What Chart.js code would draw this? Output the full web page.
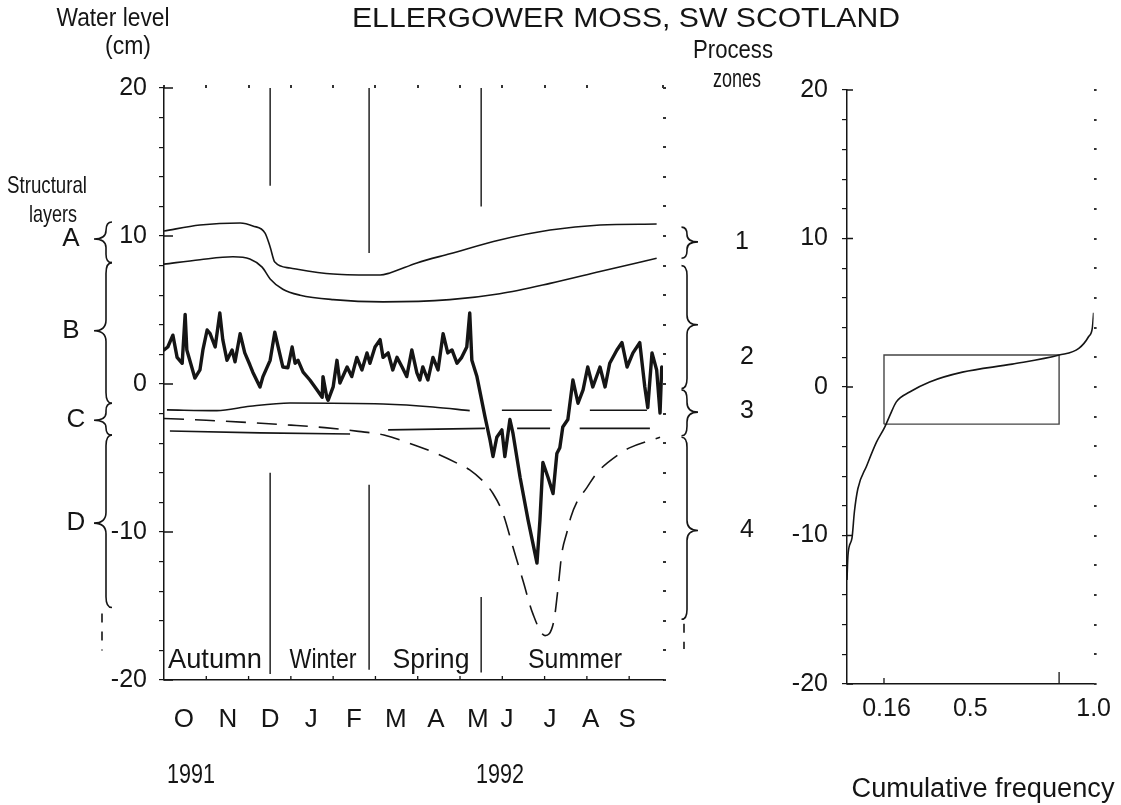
<!DOCTYPE html>
<html>
<head>
<meta charset="utf-8">
<title>Ellergower Moss water level</title>
<script src="https://cdn.jsdelivr.net/npm/chart.js@4.4.0/dist/chart.umd.min.js"></script>
<style>
  html, body { margin: 0; padding: 0; background: #fff; }
  #wrap { position: relative; width: 1121px; height: 805px; }
  #wrap canvas { position: absolute; left: 0; top: 0; }
</style>
</head>
<body>
<div id="wrap">
  <canvas id="levels" width="1121" height="805"></canvas>
  <canvas id="freq" width="1121" height="805"></canvas>
</div>
<script>
// months are counted from 1 October 1991
const monthLabels = ['O', 'N', 'D', 'J', 'F', 'M', 'A', 'M', 'J', 'J', 'A', 'S'];
const monthLabelAt = [0.47, 1.51, 2.51, 3.48, 4.49, 5.48, 6.43, 7.42, 8.11, 9.13, 10.09, 10.95];

// water level record (cm)
const levelMonth = [0, 0.09, 0.21, 0.31, 0.43, 0.50, 0.54, 0.73, 0.85, 0.92,
  1.02, 1.09, 1.21, 1.32, 1.39, 1.49, 1.61, 1.68, 1.80, 1.91,
  2.03, 2.10, 2.27, 2.34, 2.51, 2.62, 2.70, 2.81, 2.93, 3.03,
  3.10, 3.17, 3.29, 3.45, 3.62, 3.74, 3.76, 3.85, 3.88, 4.00,
  4.09, 4.16, 4.33, 4.44, 4.56, 4.68, 4.80, 4.87, 4.99, 5.11,
  5.18, 5.30, 5.41, 5.51, 5.63, 5.74, 5.86, 5.98, 6.05, 6.12,
  6.24, 6.36, 6.48, 6.60, 6.71, 6.81, 6.93, 7.04, 7.16, 7.23,
  7.28, 7.40, 7.59, 7.71, 7.78, 7.87, 7.99, 8.06, 8.18, 8.25,
  8.42, 8.61, 8.82, 8.89, 8.96, 9.08, 9.20, 9.29, 9.36, 9.43,
  9.55, 9.67, 9.79, 9.91, 10.02, 10.14, 10.31, 10.43, 10.54, 10.71,
  10.83, 10.95, 11.09, 11.25, 11.37, 11.44, 11.54, 11.65, 11.73, 11.77];
const levelCm = [2.3, 2.5, 3.3, 1.8, 1.4, 4.7, 2.3, 0.4, 0.95, 2.3,
  3.65, 3.4, 2.5, 4.8, 3.0, 1.6, 2.3, 1.5, 3.4, 2.1,
  1.3, 0.8, -0.2, 0.5, 1.6, 3.5, 2.5, 1.15, 1.1, 2.5,
  1.4, 1.6, 0.8, 0.27, -0.4, -0.9, 0.5, -0.9, -1.1, -0.2,
  1.6, 0.07, 1.15, 0.5, 1.8, 0.95, 2.1, 1.4, 2.5, 3.0,
  1.8, 2.1, 0.95, 1.8, 1.15, 0.5, 2.3, 0.75, 0.27, 1.15,
  0.27, 1.8, 0.95, 3.4, 2.1, 2.3, 1.4, 1.8, 2.5, 4.8,
  1.6, 0.5, -2.2, -3.8, -4.9, -3.6, -3.1, -4.9, -2.4, -3.3,
  -6.3, -9.2, -12.1, -9.2, -5.3, -6.3, -7.4, -4.7, -4.3, -2.9,
  -2.4, 0.27, -1.3, -0.4, 1.15, -0.2, 1.15, -0.2, 1.4, 2.3,
  2.8, 1.15, 2.1, 2.8, -0.2, -1.6, 2.1, 0.95, -1.96, 1.15];

// upper boundary of layer A
const topAMonth = [0, 0.85, 1.80, 2.10, 2.39, 2.51, 2.62, 2.98, 4.00, 5.11, 5.34, 5.98, 6.76, 7.94, 9.13, 10.31, 11.65];
const topACm = [10.34, 10.74, 10.88, 10.68, 10.2, 9.26, 8.24, 7.84, 7.43, 7.36, 7.5, 8.18, 8.8, 9.73, 10.4, 10.74, 10.81];
// boundary A / B
const topBMonth = [0, 0.85, 1.63, 2.03, 2.32, 2.51, 2.81, 3.22, 4.0, 5.18, 6.76, 7.94, 9.13, 10.31, 11.65];
const topBCm = [8.1, 8.4, 8.6, 8.45, 7.9, 7.1, 6.4, 6.0, 5.7, 5.55, 5.7, 6.1, 6.8, 7.6, 8.5];
// boundary B / C (null = break in the line)
const topCMonth = [0.07, 1.25, 2.03, 2.98, 5.18, 6.36, 7.23, 7.6, 7.99, 9.17, 9.6, 10.07, 11.42];
const topCCm = [-1.75, -1.8, -1.5, -1.28, -1.35, -1.55, -1.8, null, -1.77, -1.77, null, -1.77, -1.77];
// boundary C / D
const topDMonth = [0.14, 2.27, 4.40, 4.85, 5.30, 7.59, 7.9, 8.35, 9.13, 9.5, 9.83, 11.49];
const topDCm = [-3.18, -3.3, -3.38, null, -3.1, -3.0, null, -3.0, -3.0, null, -3.0, -3.0];
// dashed curve
const dipMonth = [0, 1.0, 2.0, 3.0, 3.8, 4.6, 5.2, 5.9, 6.36, 6.93,
  7.23, 7.59, 7.78, 8.01, 8.25, 8.49, 8.72, 9.01, 9.22, 9.31,
  9.41, 9.53, 9.62, 9.76, 10.0, 10.24, 10.78, 11.02, 11.73];
const dipCm = [-2.33, -2.45, -2.6, -2.78, -2.95, -3.2, -3.45, -4.1, -4.6, -5.35,
  -5.8, -6.7, -7.4, -8.7, -11.0, -13.3, -15.5, -17.0, -16.0, -14.0,
  -11.4, -10.0, -9.0, -8.0, -7.0, -6.0, -4.7, -4.3, -3.6];

// season boundaries
const seasonNames = ['Autumn', 'Winter', 'Spring', 'Summer'];
const seasonAt = [2.51, 4.85, 7.5];
const seasonTopEnd = [13.4, 8.85, 12.0];
const seasonLowStart = [-6.0, -6.8, -14.4];
const seasonLowEnd = [-19.6, -19.3, -19.5];

// structural layers (left) and process zones (right)
const layerNames = ['A', 'B', 'C', 'D'];
const layerTop = [10.95, 8.2, -1.3, -3.45];
const layerTip = [9.8, 3.6, -2.45, -9.4];
const layerBottom = [8.2, -1.3, -3.45, -15.1];
const zoneNames = ['1', '2', '3', '4'];
const zoneTop = [10.6, 8.0, -0.4, -3.6];
const zoneTip = [9.6, 4.0, -1.9, -9.9];
const zoneBottom = [8.5, -0.3, -3.5, -15.9];
const zoneLabelAt = [9.6, 1.8, -1.85, -9.9];

// cumulative frequency of water level
const cumFreq = [0, 0.004, 0.02, 0.03, 0.044, 0.08, 0.12, 0.153, 0.173, 0.2, 0.254, 0.335, 0.468, 0.67, 0.86, 0.94, 0.98, 0.995, 1.0];
const cumLevel = [-13.0, -11.3, -10.2, -8.4, -6.85, -5.3, -3.7, -2.7, -1.95, -1.0, -0.34, 0.34, 1.0, 1.54, 2.15, 2.6, 3.4, 4.0, 5.0];
const boxFreq = [0.15, 0.86];
const boxLevel = [-2.5, 2.15];
const freqTicks = [0.16, 0.5, 1.0];
const freqTickLabels = ['0.16', '0.5', '1.0'];

const INK = '#151515';
const FONT = '"Liberation Sans", Arial, Helvetica, sans-serif';

function points(xs, ys) {
  return xs.map((x, i) => ({ x: x, y: ys[i] }));
}

function lineSet(xs, ys, width, extra) {
  return Object.assign({
    data: points(xs, ys),
    borderColor: INK,
    borderWidth: width,
    pointRadius: 0,
    tension: 0,
    spanGaps: false,
    fill: false
  }, extra || {});
}

function drawLabel(ctx, text, cx, cy, size, width) {
  ctx.save();
  ctx.font = size + 'px ' + FONT;
  ctx.fillStyle = INK;
  ctx.textAlign = 'center';
  ctx.textBaseline = 'middle';
  ctx.translate(cx, cy);
  if (width) {
    ctx.scale(width / ctx.measureText(text).width, 1);
  }
  ctx.fillText(text, 0, 0);
  ctx.restore();
}

// curly brace, d = -1 tip to the left, d = 1 tip to the right
function brace(ctx, x, yTop, yTip, yBot, d, w) {
  const h = Math.min(w * 0.9, (yTip - yTop) / 2, (yBot - yTip) / 2);
  ctx.beginPath();
  ctx.moveTo(x - d * w * 0.5, yTop);
  ctx.quadraticCurveTo(x, yTop, x, yTop + h);
  ctx.lineTo(x, yTip - h);
  ctx.quadraticCurveTo(x, yTip, x + d * w, yTip);
  ctx.quadraticCurveTo(x, yTip, x, yTip + h);
  ctx.lineTo(x, yBot - h);
  ctx.quadraticCurveTo(x, yBot, x - d * w * 0.5, yBot);
  ctx.stroke();
}

const levelDecor = {
  id: 'levelDecor',
  afterDraw(chart) {
    const { ctx, scales: { x, y } } = chart;
    ctx.save();
    ctx.strokeStyle = INK;
    ctx.lineWidth = 1.3;

    // month ticks on the time axis, inward ticks on the level axis
    ctx.beginPath();
    for (let m = 1; m <= 11; m++) {
      const px = x.getPixelForValue(m);
      ctx.moveTo(px, y.bottom);
      ctx.lineTo(px, y.bottom - 4);
    }
    [-20, -10, 0, 10, 20].forEach(v => {
      const py = y.getPixelForValue(v);
      ctx.moveTo(x.left, py);
      ctx.lineTo(x.left + 9, py);
    });
    ctx.stroke();

    // layer braces on the left
    ctx.lineWidth = 1.6;
    layerNames.forEach((name, i) => {
      brace(ctx, 106, y.getPixelForValue(layerTop[i]), y.getPixelForValue(layerTip[i]),
        y.getPixelForValue(layerBottom[i]), -1, 12);
      drawLabel(ctx, name, i < 2 ? 71 : 76, y.getPixelForValue(layerTip[i]), 26);
    });
    // zone braces on the right
    zoneNames.forEach((name, i) => {
      brace(ctx, 687, y.getPixelForValue(zoneTop[i]), y.getPixelForValue(zoneTip[i]),
        y.getPixelForValue(zoneBottom[i]), 1, 11);
      drawLabel(ctx, name, i === 0 ? 742 : 747, y.getPixelForValue(zoneLabelAt[i]), 25);
    });
    // broken continuation below the last braces
    ctx.setLineDash([9, 9]);
    ctx.beginPath();
    ctx.moveTo(102, y.getPixelForValue(-15.5));
    ctx.lineTo(102, y.getPixelForValue(-18.0));
    ctx.moveTo(684, y.getPixelForValue(-16.2));
    ctx.lineTo(684, y.getPixelForValue(-17.9));
    ctx.stroke();
    ctx.setLineDash([]);
    ctx.restore();

    // texts
    drawLabel(ctx, 'ELLERGOWER MOSS, SW SCOTLAND', 626, 20, 27, 548);
    drawLabel(ctx, 'Water level', 113, 19, 26, 113);
    drawLabel(ctx, '(cm)', 128, 47, 26, 46);
    drawLabel(ctx, 'Structural', 47, 186, 24, 80);
    drawLabel(ctx, 'layers', 53, 215, 24, 48);
    drawLabel(ctx, 'Process', 733, 51, 25, 80);
    drawLabel(ctx, 'zones', 737, 80, 25, 48);

    const seasonCx = [215, 323, 431, 575];
    const seasonW = [94, 67, 77, 94];
    seasonNames.forEach((s, i) => drawLabel(ctx, s, seasonCx[i], 660, 28, seasonW[i]));

    drawLabel(ctx, '1991', 191, 776, 27, 48);
    drawLabel(ctx, '1992', 500, 776, 27, 48);
  }
};

const seasonSets = [];
seasonAt.forEach((s, i) => {
  seasonSets.push(lineSet([s, s], [20, seasonTopEnd[i]], 1.4));
  seasonSets.push(lineSet([s, s], [seasonLowStart[i], seasonLowEnd[i]], 1.4));
});

const tickFont = { family: FONT, size: 25 };

new Chart(document.getElementById('levels'), {
  type: 'line',
  data: {
    datasets: [
      lineSet(topAMonth, topACm, 1.6, { cubicInterpolationMode: 'monotone' }),
      lineSet(topBMonth, topBCm, 1.6, { cubicInterpolationMode: 'monotone' }),
      lineSet(topCMonth, topCCm, 1.6, { cubicInterpolationMode: 'monotone' }),
      lineSet(topDMonth, topDCm, 1.6),
      lineSet(dipMonth, dipCm, 1.6, { cubicInterpolationMode: 'monotone', borderDash: [20, 11] }),
      lineSet(levelMonth, levelCm, 3.4, { borderJoinStyle: 'round', borderCapStyle: 'round' })
    ].concat(seasonSets)
  },
  options: {
    responsive: false,
    animation: false,
    events: [],
    layout: { padding: { left: 104, right: 455, top: 85, bottom: 65 } },
    plugins: { legend: { display: false }, tooltip: { enabled: false } },
    scales: {
      x: {
        type: 'linear',
        position: 'bottom',
        min: 0,
        max: 11.8,
        afterBuildTicks: s => { s.ticks = monthLabelAt.map(v => ({ value: v })); },
        afterFit: s => { s.height = 60; },
        grid: { display: false, drawTicks: false },
        border: { display: true, color: INK, width: 1.5 },
        ticks: {
          autoSkip: false,
          maxRotation: 0,
          padding: 24,
          color: INK,
          font: { family: FONT, size: 26 },
          callback: (v, i) => monthLabels[i]
        }
      },
      xTop: {
        type: 'linear',
        position: 'top',
        min: 0,
        max: 11.8,
        ticks: { stepSize: 1, display: false },
        grid: { drawOnChartArea: false, tickLength: 3, lineWidth: 2, color: '#333' },
        border: { display: false },
        afterFit: s => { s.height = 3; }
      },
      y: {
        position: 'left',
        min: -20,
        max: 20,
        ticks: {
          stepSize: 2,
          autoSkip: false,
          padding: 12,
          color: INK,
          font: tickFont,
          callback: v => (v % 10 === 0 ? String(v) : '')
        },
        grid: { drawOnChartArea: false, tickLength: 5, color: INK, lineWidth: 1.2 },
        border: { color: INK, width: 1.5 },
        afterFit: s => { s.width = 60; }
      },
      yRight: {
        position: 'right',
        min: -20,
        max: 20,
        ticks: { stepSize: 2, display: false },
        grid: { drawOnChartArea: false, tickLength: 3, lineWidth: 2, color: '#333' },
        border: { display: false },
        afterFit: s => { s.width = 3; }
      }
    }
  },
  plugins: [levelDecor]
});

const freqDecor = {
  id: 'freqDecor',
  afterDraw(chart) {
    const { ctx, scales: { x, y } } = chart;
    ctx.save();
    ctx.strokeStyle = INK;
    ctx.lineWidth = 1.3;
    ctx.beginPath();
    [-20, -10, 0, 10, 20].forEach(v => {
      const py = y.getPixelForValue(v);
      ctx.moveTo(x.left, py);
      ctx.lineTo(x.left + 6, py);
    });
    boxFreq.forEach((f, i) => {
      const px = x.getPixelForValue(f);
      ctx.moveTo(px, y.bottom);
      ctx.lineTo(px, y.bottom - (i === 0 ? 6 : 12));
    });
    ctx.stroke();
    ctx.restore();
    drawLabel(ctx, 'Cumulative frequency', 983, 790, 27, 263);
  }
};

new Chart(document.getElementById('freq'), {
  type: 'line',
  data: {
    datasets: [
      lineSet(cumFreq, cumLevel, 1.6, { cubicInterpolationMode: 'monotone' }),
      lineSet([boxFreq[0], boxFreq[0], boxFreq[1], boxFreq[1], boxFreq[0]],
        [boxLevel[0], boxLevel[1], boxLevel[1], boxLevel[0], boxLevel[0]], 1.4,
        { borderColor: '#444' })
    ]
  },
  options: {
    responsive: false,
    animation: false,
    events: [],
    layout: { padding: { left: 767, right: 23, top: 90, bottom: 81 } },
    plugins: { legend: { display: false }, tooltip: { enabled: false } },
    scales: {
      x: {
        type: 'linear',
        position: 'bottom',
        min: 0,
        max: 1,
        afterBuildTicks: s => { s.ticks = freqTicks.map(v => ({ value: v })); },
        afterFit: s => { s.height = 40; },
        grid: { display: false, drawTicks: false },
        border: { display: true, color: INK, width: 1.5 },
        ticks: {
          autoSkip: false,
          maxRotation: 0,
          padding: 10,
          color: INK,
          font: tickFont,
          callback: (v, i) => freqTickLabels[i]
        }
      },
      y: {
        position: 'left',
        min: -20,
        max: 20,
        ticks: {
          stepSize: 2,
          autoSkip: false,
          padding: 14,
          color: INK,
          font: tickFont,
          callback: v => (v % 10 === 0 ? String(v) : '')
        },
        grid: { drawOnChartArea: false, tickLength: 5, color: INK, lineWidth: 1.2 },
        border: { color: INK, width: 1.5 },
        afterFit: s => { s.width = 80; }
      },
      yRight: {
        position: 'right',
        min: -20,
        max: 20,
        ticks: { stepSize: 2, display: false },
        grid: { drawOnChartArea: false, tickLength: 3, lineWidth: 2, color: '#333' },
        border: { display: false },
        afterFit: s => { s.width = 3; }
      }
    }
  },
  plugins: [freqDecor]
});
</script>
</body>
</html>
